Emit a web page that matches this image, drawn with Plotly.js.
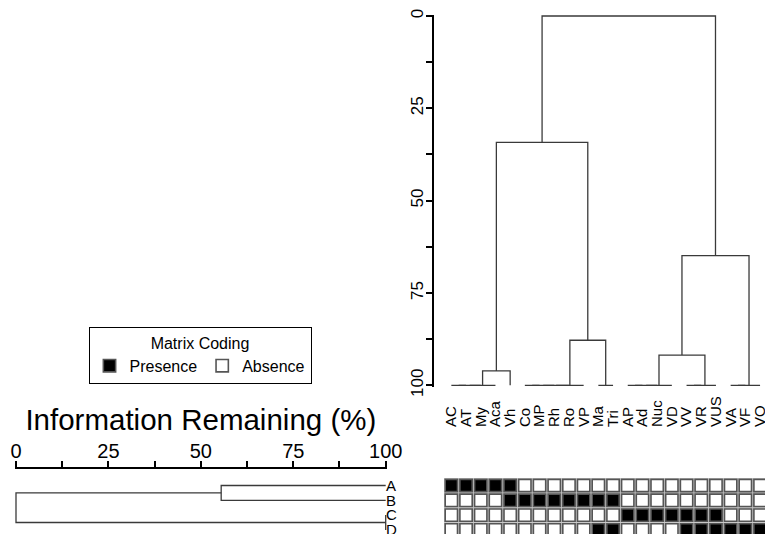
<!DOCTYPE html>
<html><head><meta charset="utf-8">
<script src="https://cdn.plot.ly/plotly-3.0.1.min.js"></script>
<style>html,body{margin:0;padding:0;background:#fff}#chart{width:765px;height:534px}</style>
</head><body><div id="chart"></div>
<script>
// ---- data ----
const leafLabels = ['AC','AT','My','Aca','Vh','Co','MP','Rh','Ro','VP','Ma','Tri','AP','Ad','Nuc','VD','VV','VR','VUS','VA','VF','VO'];
const rowLabels = ['A','B','C','D'];
const rowA = [1,1,1,1,1,0,0,0,0,0,0,0,0,0,0,0,0,0,0,0,0,0];
const rowB = [0,0,0,0,1,1,1,1,1,1,1,1,0,0,0,0,0,0,0,0,0,0];
const rowC = [0,0,0,0,0,0,0,0,0,0,0,0,1,1,1,1,1,1,1,0,0,0];
const rowD = [0,0,0,0,0,0,0,0,0,0,1,1,0,0,0,0,1,1,1,1,1,1];
// hclust-style merges: negative = leaf (1-based), positive = earlier merge (1-based)
const colMerge = [[-1,-2],[1,-3],[2,-4],[3,-5],[-6,-7],[5,-8],[6,-9],[7,-10],[-11,-12],[8,9],[4,10],
                  [-13,-14],[12,-15],[13,-16],[-17,-18],[15,-19],[14,16],[-20,-21],[18,-22],[17,19],[11,20]];
const colHeights = [100,100,100,96.1,100,100,100,100,100,87.8,34.2,100,100,100,100,100,91.8,100,100,64.9,0];
const rowMerge = [[-1,-2],[-3,-4],[1,2]];
const rowHeights = [55.5,100,0];
const leafHeight = 100;
const axisTicks = [0,12.5,25,37.5,50,62.5,75,87.5,100];
const axisTickText = ['0','','25','','50','','75','','100'];

// ---- build ----
function dendro(merge, heights){
  const nodeX=[], nodeH=[], pos=[], hts=[];
  const child = c => c<0 ? [-c-1, leafHeight] : [nodeX[c-1], nodeH[c-1]];
  merge.forEach((m,i)=>{
    const a=child(m[0]), b=child(m[1]), h=heights[i];
    pos.push(a[0],a[0],b[0],b[0],null);
    hts.push(a[1],h,h,b[1],null);
    nodeX.push((a[0]+b[0])/2); nodeH.push(h);
  });
  return {pos,hts};
}
const matrix = [rowA,rowB,rowC,rowD];
const colD = dendro(colMerge,colHeights);
const rowDd = dendro(rowMerge,rowHeights);

const presX=[],presY=[],absX=[],absY=[];
matrix.forEach((r,ri)=>r.forEach((v,ci)=>{ if(v){presX.push(ci);presY.push(ri);} else {absX.push(ci);absY.push(ri);} }));

const W=765,H=534;
const font = 'Liberation Sans, Arial, sans-serif';
const lineCol = '#3a3a3a';

const traces = [
  {type:'heatmap', x:leafLabels.map((_,i)=>i), y:rowLabels.map((_,i)=>i), z:matrix.map(r=>r.map(()=>1)),
   colorscale:[[0,'#c8c8c8'],[1,'#c8c8c8']], showscale:false, hoverinfo:'skip', xaxis:'x', yaxis:'y2'},
  {type:'scatter', mode:'markers', name:'Presence', x:presX, y:presY, xaxis:'x', yaxis:'y2',
   marker:{symbol:'square', size:12.3, color:'black', line:{color:'#555', width:1.6}}},
  {type:'scatter', mode:'markers', name:'Absence', x:absX, y:absY, xaxis:'x', yaxis:'y2',
   marker:{symbol:'square', size:12.3, color:'white', line:{color:'#555', width:1.6}}},
  {type:'scatter', mode:'lines', x:colD.pos, y:colD.hts, xaxis:'x', yaxis:'y', showlegend:false,
   line:{color:lineCol, width:1.3}, hoverinfo:'skip'},
  {type:'scatter', mode:'lines', x:rowDd.hts, y:rowDd.pos, xaxis:'x2', yaxis:'y2', showlegend:false,
   line:{color:lineCol, width:1.3}, hoverinfo:'skip'}
];

const layout = {
  width:W, height:H, margin:{l:0,r:0,t:0,b:0}, paper_bgcolor:'white', plot_bgcolor:'rgba(0,0,0,0)',
  font:{family:font, color:'black'},
  showlegend:true,
  legend:{x:200/W, xanchor:'center', y:1-327/H, yanchor:'top', orientation:'h',
    bgcolor:'white', bordercolor:'black', borderwidth:1, font:{size:16, family:font},
    title:{text:'Matrix Coding', side:'top center', font:{size:16, family:font}}},
  xaxis:{domain:[444/W,1], range:[-0.5,(765-444)/14.7-0.5], anchor:'free', position:1-427/H, side:'top',
    tickmode:'array', tickvals:leafLabels.map((_,i)=>i), ticktext:leafLabels, tickangle:-90,
    tickfont:{size:15}, showline:false, ticks:'', showgrid:false, zeroline:false, ticklabeloverflow:'allow'},
  yaxis:{domain:[1-386.8/H,1-14.52/H], range:[100.4,-0.4], anchor:'free', position:433/W, side:'left',
    tickmode:'array', tickvals:axisTicks, ticktext:axisTickText, tickangle:-90, tickfont:{size:17},
    ticks:'outside', ticklen:6, tickwidth:2, tickcolor:'black', showline:true, linewidth:2, linecolor:'black',
    showgrid:false, zeroline:false, ticklabelstandoff:-4},
  yaxis2:{domain:[0,1-478.1/H], range:[(534-478.1)/14.8-0.5,-0.5], anchor:'free', position:385/W, side:'right',
    tickmode:'array', tickvals:rowLabels.map((_,i)=>i), ticktext:rowLabels, tickfont:{size:15},
    showline:false, ticks:'', showgrid:false, zeroline:false, ticklabeloverflow:'allow'},
  xaxis2:{domain:[14.52/W,387.18/W], range:[-0.4,100.4], anchor:'free', position:1-468.3/H, side:'top',
    tickmode:'array', tickvals:axisTicks, ticktext:axisTickText, tickfont:{size:20},
    ticks:'outside', ticklen:6, tickwidth:2, tickcolor:'black', showline:true, linewidth:2, linecolor:'black',
    showgrid:false, zeroline:false, ticklabelstandoff:-5, ticklabeloverflow:'allow',
    title:{text:'Information Remaining (%)', font:{size:29.5}, standoff:0}}
};

Plotly.newPlot('chart', traces, layout, {displayModeBar:false, staticPlot:true});
</script>
</body></html>
